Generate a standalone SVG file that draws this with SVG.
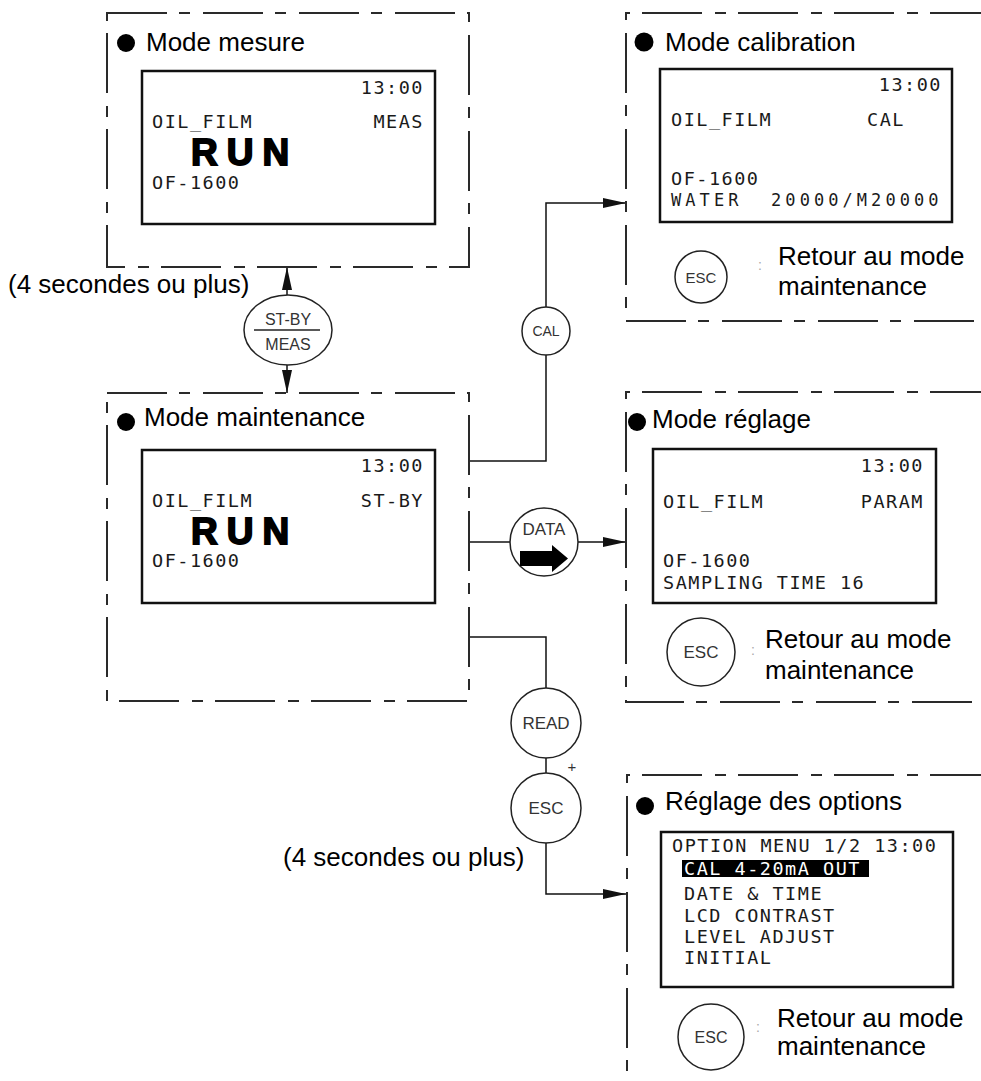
<svg xmlns="http://www.w3.org/2000/svg" width="981" height="1081" viewBox="0 0 981 1081">
<style>
.frame{fill:none;stroke:#2a2a2a;stroke-width:2;stroke-dasharray:60 12 11 13}
.lcd{fill:#fff;stroke:#111;stroke-width:2.5}
.lt{font-family:"DejaVu Sans Mono","Liberation Mono",monospace;font-size:18.5px;letter-spacing:1.5px;fill:#1a1a1a}
.run{font-family:"Liberation Sans",Arial,sans-serif;font-weight:bold;font-size:37px;letter-spacing:9px;fill:#000;stroke:#000;stroke-width:1.8}
.title{font-family:"Liberation Sans",Arial,sans-serif;font-size:26px;fill:#000}
.note{font-family:"Liberation Sans",Arial,sans-serif;font-size:26px;fill:#000}
.key{fill:#fff;stroke:#222;stroke-width:1.5}
.kt{font-family:"Liberation Sans",Arial,sans-serif;fill:#333;text-anchor:middle}
.conn{fill:none;stroke:#111;stroke-width:1.5}
.colon{font-family:"Liberation Sans",Arial,sans-serif;font-size:14px;fill:#aaa}
</style>
<defs>
<marker id="ah" markerUnits="userSpaceOnUse" markerWidth="24" markerHeight="12" refX="23" refY="6" orient="auto-start-reverse" viewBox="0 0 24 12">
<path d="M0,1 L23,6 L0,11 Z" fill="#111"/>
</marker>
</defs>
<rect width="981" height="1081" fill="#fff"/>

<g id="connectors">
<line class="conn" x1="287" y1="365" x2="287" y2="393" marker-end="url(#ah)"/>
<line class="conn" x1="287" y1="295" x2="287" y2="267" marker-end="url(#ah)"/>
<path class="conn" d="M469 461 H546 V203 H626" marker-end="url(#ah)"/>
<path class="conn" d="M469 542 H510"/>
<path class="conn" d="M578 542 H626" marker-end="url(#ah)"/>
<path class="conn" d="M469 637 H546 V688"/>
<path class="conn" d="M546 758 V773"/>
<path class="conn" d="M546 843 V894 H626" marker-end="url(#ah)"/>
</g>

<g id="mode-mesure">
<rect class="frame" x="107" y="13" width="362" height="254"/>
<circle cx="126" cy="43" r="9" fill="#000"/>
<text class="title" x="146" y="51">Mode mesure</text>
<rect class="lcd" x="142" y="71" width="293" height="153"/>
<text class="lt" x="424" y="94" text-anchor="end">13:00</text>
<text class="lt" x="152" y="128">OIL_FILM</text>
<text class="lt" x="424" y="128" text-anchor="end">MEAS</text>
<text class="run" x="191" y="165">RUN</text>
<text class="lt" x="152" y="189">OF-1600</text>
</g>

<g id="key-stby-meas">
<ellipse class="key" cx="288" cy="330" rx="44" ry="35"/>
<text class="kt" x="288" y="325" font-size="16">ST-BY</text>
<line x1="254" y1="330" x2="320" y2="330" stroke="#222" stroke-width="1.5"/>
<text class="kt" x="288" y="350" font-size="16">MEAS</text>
</g>
<text class="note" x="8" y="293">(4 secondes ou plus)</text>

<g id="mode-maintenance">
<rect class="frame" x="107" y="393" width="362" height="308"/>
<circle cx="126" cy="422" r="9" fill="#000"/>
<text class="title" x="144" y="426">Mode maintenance</text>
<rect class="lcd" x="142" y="450" width="293" height="153"/>
<text class="lt" x="424" y="472" text-anchor="end">13:00</text>
<text class="lt" x="152" y="507">OIL_FILM</text>
<text class="lt" x="424" y="507" text-anchor="end">ST-BY</text>
<text class="run" x="191" y="544">RUN</text>
<text class="lt" x="152" y="567">OF-1600</text>
</g>

<g id="key-cal">
<circle class="key" cx="546" cy="331" r="24"/>
<text class="kt" x="546" y="336" font-size="14">CAL</text>
</g>

<g id="key-data">
<circle class="key" cx="544" cy="542" r="34"/>
<text class="kt" x="544" y="535" font-size="17">DATA</text>
<path d="M520 551 H552 V545 L568 558.5 L552 572 V566 H520 Z" fill="#000"/>
</g>

<g id="key-read">
<circle class="key" cx="546" cy="723" r="35"/>
<text class="kt" x="546" y="729" font-size="17">READ</text>
</g>
<text x="572" y="772" font-family="Liberation Sans, Arial, sans-serif" font-size="15" fill="#333" text-anchor="middle">+</text>
<g id="key-esc">
<circle class="key" cx="546" cy="808" r="35"/>
<text class="kt" x="546" y="814" font-size="17">ESC</text>
</g>
<text class="note" x="283" y="866">(4 secondes ou plus)</text>

<g id="mode-calibration">
<path class="frame" d="M990 13 H626 V321 H990"/>
<circle cx="644" cy="42" r="9.5" fill="#000"/>
<text class="title" x="665" y="51">Mode calibration</text>
<rect class="lcd" x="660" y="69" width="292" height="153"/>
<text class="lt" x="942" y="91" text-anchor="end">13:00</text>
<text class="lt" x="671" y="126">OIL_FILM</text>
<text class="lt" x="867" y="126">CAL</text>
<text class="lt" x="671" y="185">OF-1600</text>
<text class="lt" x="671" y="206" style="font-size:17px" textLength="269" lengthAdjust="spacing" xml:space="preserve">WATER  20000/M20000</text>
<circle class="key" cx="701" cy="277" r="26"/>
<text class="kt" x="701" y="283" font-size="15">ESC</text>
<text class="colon" x="758" y="270">:</text>
<text class="note" x="778" y="265">Retour au mode</text>
<text class="note" x="778" y="295">maintenance</text>
</g>

<g id="mode-reglage">
<path class="frame" d="M990 392 H626 V702 H990"/>
<circle cx="637" cy="422" r="9" fill="#000"/>
<text class="title" x="652" y="428">Mode réglage</text>
<rect class="lcd" x="653" y="449" width="283" height="154"/>
<text class="lt" x="924" y="472" text-anchor="end">13:00</text>
<text class="lt" x="663" y="508">OIL_FILM</text>
<text class="lt" x="924" y="508" text-anchor="end">PARAM</text>
<text class="lt" x="663" y="567">OF-1600</text>
<text class="lt" x="663" y="589">SAMPLING TIME 16</text>
<circle class="key" cx="701" cy="652" r="34"/>
<text class="kt" x="701" y="658" font-size="17">ESC</text>
<text class="colon" x="751" y="655">:</text>
<text class="note" x="765" y="648">Retour au mode</text>
<text class="note" x="765" y="679">maintenance</text>
</g>

<g id="reglage-options">
<path class="frame" d="M990 775 H627 V1090"/>
<circle cx="645" cy="806" r="9" fill="#000"/>
<text class="title" x="665" y="810">Réglage des options</text>
<rect class="lcd" x="661" y="832" width="292" height="155"/>
<text class="lt" x="672" y="852">OPTION MENU 1/2 13:00</text>
<rect x="682" y="860" width="187" height="17" fill="#000"/>
<text class="lt" x="684" y="875" style="fill:#fff">CAL 4-20mA OUT</text>
<text class="lt" x="684" y="900">DATE &amp; TIME</text>
<text class="lt" x="684" y="922">LCD CONTRAST</text>
<text class="lt" x="684" y="943">LEVEL ADJUST</text>
<text class="lt" x="684" y="964">INITIAL</text>
<circle class="key" cx="711" cy="1037" r="33"/>
<text class="kt" x="711" y="1043" font-size="16">ESC</text>
<text class="colon" x="756" y="1032">:</text>
<text class="note" x="777" y="1027">Retour au mode</text>
<text class="note" x="777" y="1055">maintenance</text>
</g>
</svg>
